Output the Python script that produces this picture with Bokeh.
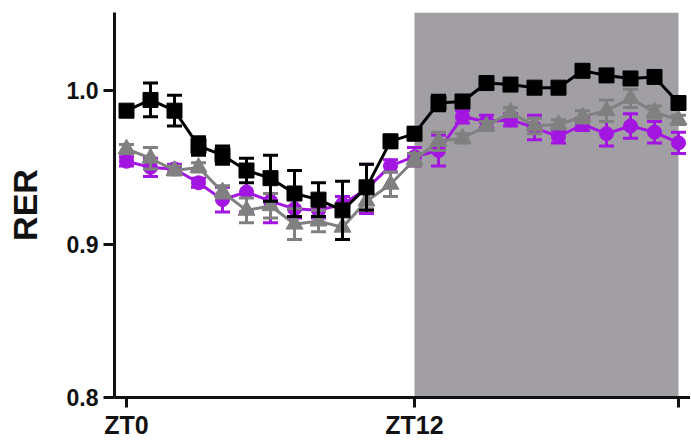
from bokeh.plotting import figure
from bokeh.models import Range1d, FixedTicker, BoxAnnotation, ColumnDataSource
from bokeh.embed import file_html
from bokeh.resources import INLINE

# ---- data ----
hours = list(range(24))
x_ticks = [0, 12, 23]
x_tick_labels = {0: "ZT0", 12: "ZT12", 23: ""}
y_ticks = [0.8, 0.9, 1.0]
y_tick_labels = {0.8: "0.8", 0.9: "0.9", 1.0: "1.0"}
dark_start, dark_end = 12, 23

black = [0.987, 0.994, 0.987, 0.964, 0.958, 0.948, 0.943, 0.933, 0.929, 0.922, 0.937, 0.967,
         0.972, 0.992, 0.993, 1.005, 1.004, 1.002, 1.002, 1.013, 1.010, 1.008, 1.009, 0.992]
black_err = [0.003, 0.011, 0.010, 0.006, 0.006, 0.008, 0.015, 0.015, 0.011, 0.019, 0.015, 0.004,
             0.004, 0.005, 0.003, 0.003, 0.003, 0.003, 0.003, 0.003, 0.003, 0.003, 0.003, 0.004]

purple = [0.954, 0.950, 0.949, 0.940, 0.929, 0.934, 0.928, 0.923, 0.922, 0.926, 0.936, 0.951,
          0.957, 0.961, 0.983, 0.980, 0.981, 0.976, 0.970, 0.978, 0.972, 0.977, 0.973, 0.966]
purple_err = [0.003, 0.006, 0.003, 0.003, 0.008, 0.013, 0.014, 0.006, 0.005, 0.005, 0.016, 0.004,
              0.006, 0.010, 0.004, 0.004, 0.004, 0.008, 0.004, 0.004, 0.008, 0.008, 0.007, 0.007]

grey = [0.962, 0.956, 0.948, 0.950, 0.934, 0.922, 0.925, 0.913, 0.915, 0.911, 0.928, 0.939,
        0.955, 0.967, 0.969, 0.977, 0.986, 0.977, 0.978, 0.983, 0.987, 0.995, 0.986, 0.981]
grey_err = [0.003, 0.007, 0.003, 0.003, 0.004, 0.008, 0.008, 0.010, 0.007, 0.008, 0.005, 0.008,
            0.004, 0.006, 0.003, 0.003, 0.003, 0.005, 0.003, 0.004, 0.007, 0.006, 0.004, 0.003]

PURPLE = "#a315e0"
GREY = "#808080"
BLACK = "#000000"
SHADE = "#a19fa4"
TEXT = "#111111"
FONT = "Liberation Sans"

p = figure(width=690, height=442, output_backend="svg", toolbar_location=None,
           x_range=Range1d(-0.5, 23.5), y_range=Range1d(0.8, 1.051),
           min_border_left=114, min_border_right=0, min_border_top=12, min_border_bottom=45)
p.outline_line_color = None
p.grid.visible = False
p.background_fill_color = "white"

p.add_layout(BoxAnnotation(left=dark_start, right=dark_end, bottom=0.8,
                           fill_color=SHADE, fill_alpha=1.0, line_color=None, level="underlay"))


def series(vals, errs, color, marker, size):
    src = ColumnDataSource(dict(
        x=hours, y=vals,
        lo=[v - e for v, e in zip(vals, errs)],
        hi=[v + e for v, e in zip(vals, errs)]))
    p.segment(x0="x", y0="lo", x1="x", y1="hi", source=src, line_color=color, line_width=3)
    p.scatter(x="x", y="hi", source=src, marker="dash", size=15, line_color=color, line_width=3)
    p.scatter(x="x", y="lo", source=src, marker="dash", size=15, line_color=color, line_width=3)
    p.line(x="x", y="y", source=src, line_color=color, line_width=3)
    p.scatter(x="x", y="y", source=src, marker=marker, size=size,
              fill_color=color, line_color=color, line_width=1)


series(purple, purple_err, PURPLE, "circle", 14)
series(grey, grey_err, GREY, "triangle", 17)
series(black, black_err, BLACK, "square", 15)

xa = p.xaxis[0]
xa.ticker = FixedTicker(ticks=x_ticks)
xa.major_label_overrides = x_tick_labels
xa.axis_line_width = 3
xa.axis_line_color = TEXT
xa.major_tick_line_width = 3
xa.major_tick_line_color = TEXT
xa.major_tick_out = 10
xa.major_tick_in = 0
xa.minor_tick_line_color = None
xa.major_label_text_font = FONT
xa.major_label_text_font_size = "25px"
xa.major_label_text_font_style = "bold"
xa.major_label_text_color = TEXT
xa.major_label_standoff = 3

ya = p.yaxis[0]
ya.ticker = FixedTicker(ticks=y_ticks)
ya.major_label_overrides = y_tick_labels
ya.axis_line_width = 3
ya.axis_line_color = TEXT
ya.major_tick_line_width = 3
ya.major_tick_line_color = TEXT
ya.major_tick_out = 11
ya.major_tick_in = 0
ya.minor_tick_line_color = None
ya.major_label_text_font = FONT
ya.major_label_text_font_size = "23px"
ya.major_label_text_font_style = "bold"
ya.major_label_text_color = TEXT
ya.major_label_standoff = 5
ya.axis_label = "RER"
ya.axis_label_text_font = FONT
ya.axis_label_text_font_size = "34px"
ya.axis_label_text_font_style = "bold"
ya.axis_label_text_color = TEXT
ya.axis_label_standoff = 20

open("out.html", "w").write(file_html(p, INLINE))
